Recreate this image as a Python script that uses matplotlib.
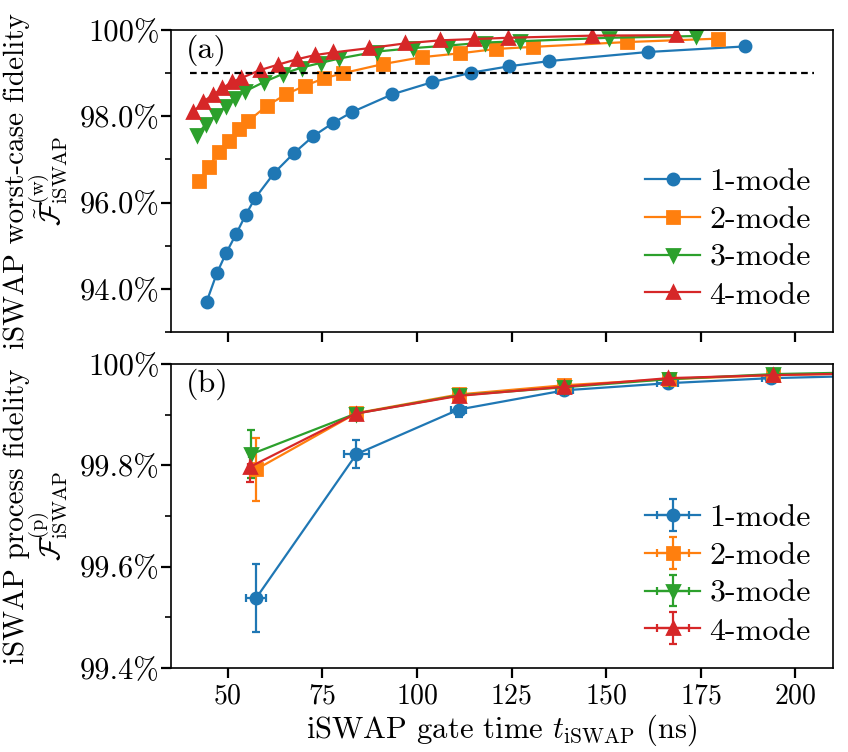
import matplotlib
matplotlib.use("Agg")
import matplotlib.pyplot as plt
from matplotlib.ticker import FuncFormatter, MultipleLocator

plt.rcParams['font.family'] = 'serif'
plt.rcParams['font.serif'] = ['cmr10']
plt.rcParams['mathtext.fontset'] = 'cm'
plt.rcParams['axes.formatter.use_mathtext'] = True
plt.rcParams['font.size'] = 10.5
plt.rcParams['axes.linewidth'] = 0.6

# panel (a): worst-case fidelity (%) vs gate time (ns)
t1_a = [44.4, 47.1, 49.5, 52.2, 54.7, 57.2, 62.3, 67.4, 72.6, 77.9, 82.9, 93.5, 104.0, 114.3, 124.4, 135.0, 161.0, 186.8]
f1_a = [93.70, 94.36, 94.82, 95.27, 95.71, 96.10, 96.69, 97.14, 97.54, 97.85, 98.10, 98.51, 98.79, 99.01, 99.16, 99.28, 99.49, 99.62]
t2_a = [42.5, 45.0, 47.7, 50.3, 52.9, 55.4, 60.3, 65.4, 70.4, 75.5, 80.5, 91.0, 101.3, 111.4, 120.9, 130.8, 155.4, 179.6]
f2_a = [96.50, 96.83, 97.18, 97.43, 97.70, 97.89, 98.24, 98.51, 98.71, 98.88, 99.00, 99.21, 99.37, 99.46, 99.56, 99.61, 99.72, 99.80]
t3_a = [41.8, 44.2, 46.8, 49.5, 51.9, 54.6, 59.7, 64.5, 69.5, 74.7, 79.5, 89.4, 98.9, 108.3, 118.0, 127.3, 150.9, 173.7]
f3_a = [97.56, 97.82, 98.03, 98.24, 98.43, 98.58, 98.80, 98.98, 99.13, 99.24, 99.34, 99.50, 99.58, 99.64, 99.71, 99.74, 99.82, 99.86]
t4_a = [40.9, 43.5, 46.0, 48.6, 51.0, 53.4, 58.5, 63.4, 68.2, 73.1, 77.9, 87.4, 96.9, 106.1, 115.1, 124.2, 146.4, 168.4]
f4_a = [98.10, 98.34, 98.49, 98.65, 98.79, 98.88, 99.07, 99.20, 99.32, 99.42, 99.48, 99.58, 99.69, 99.76, 99.79, 99.82, 99.87, 99.88]
threshold = 99.0
thr_x = [40, 205]

# panel (b): process fidelity (%) with error bars
t1_b = [57.5, 84.0, 111.0, 139.0, 166.3, 193.5, 221.0]
f1_b = [99.538, 99.822, 99.910, 99.948, 99.962, 99.972, 99.977]
e1_b = [0.067, 0.028, 0.014, 0.008, 0.006, 0.005, 0.004]
x1_b = [2.6, 3.2, 2.0, 2.2, 2.8, 2.2, 2.0]
t2_b = [57.5, 84.0, 111.2, 139.0, 166.5, 194.0, 221.5]
f2_b = [99.792, 99.903, 99.940, 99.958, 99.970, 99.978, 99.982]
e2_b = [0.062, 0.010, 0.006, 0.005, 0.004, 0.003, 0.003]
x2_b = [0.5, 0.8, 0.8, 0.8, 0.8, 0.8, 0.8]
t3_b = [56.2, 83.8, 111.0, 138.8, 166.6, 194.2, 221.5]
f3_b = [99.822, 99.902, 99.938, 99.954, 99.970, 99.980, 99.984]
e3_b = [0.048, 0.008, 0.005, 0.004, 0.004, 0.003, 0.003]
x3_b = [0.5, 0.8, 0.8, 0.8, 0.8, 0.8, 0.8]
t4_b = [55.9, 83.8, 111.0, 138.8, 166.4, 194.0, 221.5]
f4_b = [99.797, 99.902, 99.937, 99.955, 99.972, 99.978, 99.982]
e4_b = [0.030, 0.007, 0.005, 0.004, 0.003, 0.003, 0.003]
x4_b = [0.5, 0.8, 0.8, 0.8, 0.8, 0.8, 0.8]

labels = ['1-mode', '2-mode', '3-mode', '4-mode']
colors = ['#1f77b4', '#ff7f0e', '#2ca02c', '#d62728']
markers = ['o', 's', 'v', '^']


def pct(v, pos):
    if abs(v - 100) < 1e-9:
        return r'100%'
    return '%.1f%%' % v


fig = plt.figure(figsize=(4.24, 3.76), dpi=200)
ax1 = fig.add_axes([0.2017, 0.5585, 0.7807, 0.4016])
ax2 = fig.add_axes([0.2017, 0.1117, 0.7807, 0.4043], sharex=ax1)

data_a = [(t1_a, f1_a), (t2_a, f2_a), (t3_a, f3_a), (t4_a, f4_a)]
for (t, f), c, m, lab in zip(data_a, colors, markers, labels):
    ax1.plot(t, f, color=c, marker=m, ms=4.0, lw=0.8, label=lab)
ax1.plot(thr_x, [threshold, threshold], 'k--', lw=0.8, dashes=(3, 2))

ax1.set_ylim(93, 100)
ax1.yaxis.set_major_locator(MultipleLocator(2))
ax1.yaxis.set_minor_locator(MultipleLocator(1))
ax1.yaxis.set_major_formatter(FuncFormatter(pct))
ax1.tick_params(labelbottom=False)
ax1.tick_params(axis='y', which='major', pad=0.5, labelsize=11)
ax1.set_ylabel('iSWAP worst-case fidelity\n' + r'$\tilde{\mathcal{F}}^{(\mathrm{w})}_{\mathrm{iSWAP}}$',
               linespacing=0.9)
ax1.text(0.022, 0.985, '(a)', transform=ax1.transAxes, va='top', ha='left', fontsize=11.5)
ax1.legend(loc='lower right', frameon=False, handlelength=1.7, labelspacing=0.3,
           borderaxespad=0.3, handletextpad=0.3, fontsize=11.5)

data_b = [(t1_b, f1_b, e1_b, x1_b), (t2_b, f2_b, e2_b, x2_b),
          (t3_b, f3_b, e3_b, x3_b), (t4_b, f4_b, e4_b, x4_b)]
for (t, f, e, xe), c, m, lab in zip(data_b, colors, markers, labels):
    ax2.errorbar(t, f, yerr=e, xerr=xe, color=c, marker=m, ms=4.0, lw=0.8,
                 elinewidth=0.8, capsize=1.6, capthick=0.8, label=lab)

ax2.set_ylim(99.4, 100)
ax2.yaxis.set_major_locator(MultipleLocator(0.2))
ax2.yaxis.set_minor_locator(MultipleLocator(0.1))
ax2.yaxis.set_major_formatter(FuncFormatter(pct))
ax2.tick_params(axis='y', which='major', pad=0.5, labelsize=11)
ax2.tick_params(axis='x', which='major', pad=2.0, labelsize=10)
ax2.set_xlim(35, 210)
ax2.xaxis.set_major_locator(MultipleLocator(25))
ax2.set_xlabel(r'iSWAP gate time $t_{\mathrm{iSWAP}}$ (ns)', labelpad=1, fontsize=11)
ax2.set_ylabel('iSWAP process fidelity\n' + r'$\mathcal{F}^{(\mathrm{p})}_{\mathrm{iSWAP}}$',
               linespacing=0.9)
ax2.text(0.022, 0.985, '(b)', transform=ax2.transAxes, va='top', ha='left', fontsize=11.5)
ax2.legend(loc='lower right', frameon=False, handlelength=1.7, labelspacing=0.3,
           borderaxespad=0.3, handletextpad=0.3, fontsize=11.5)

fig.align_ylabels([ax1, ax2])
fig.savefig('out.png', dpi=200)
